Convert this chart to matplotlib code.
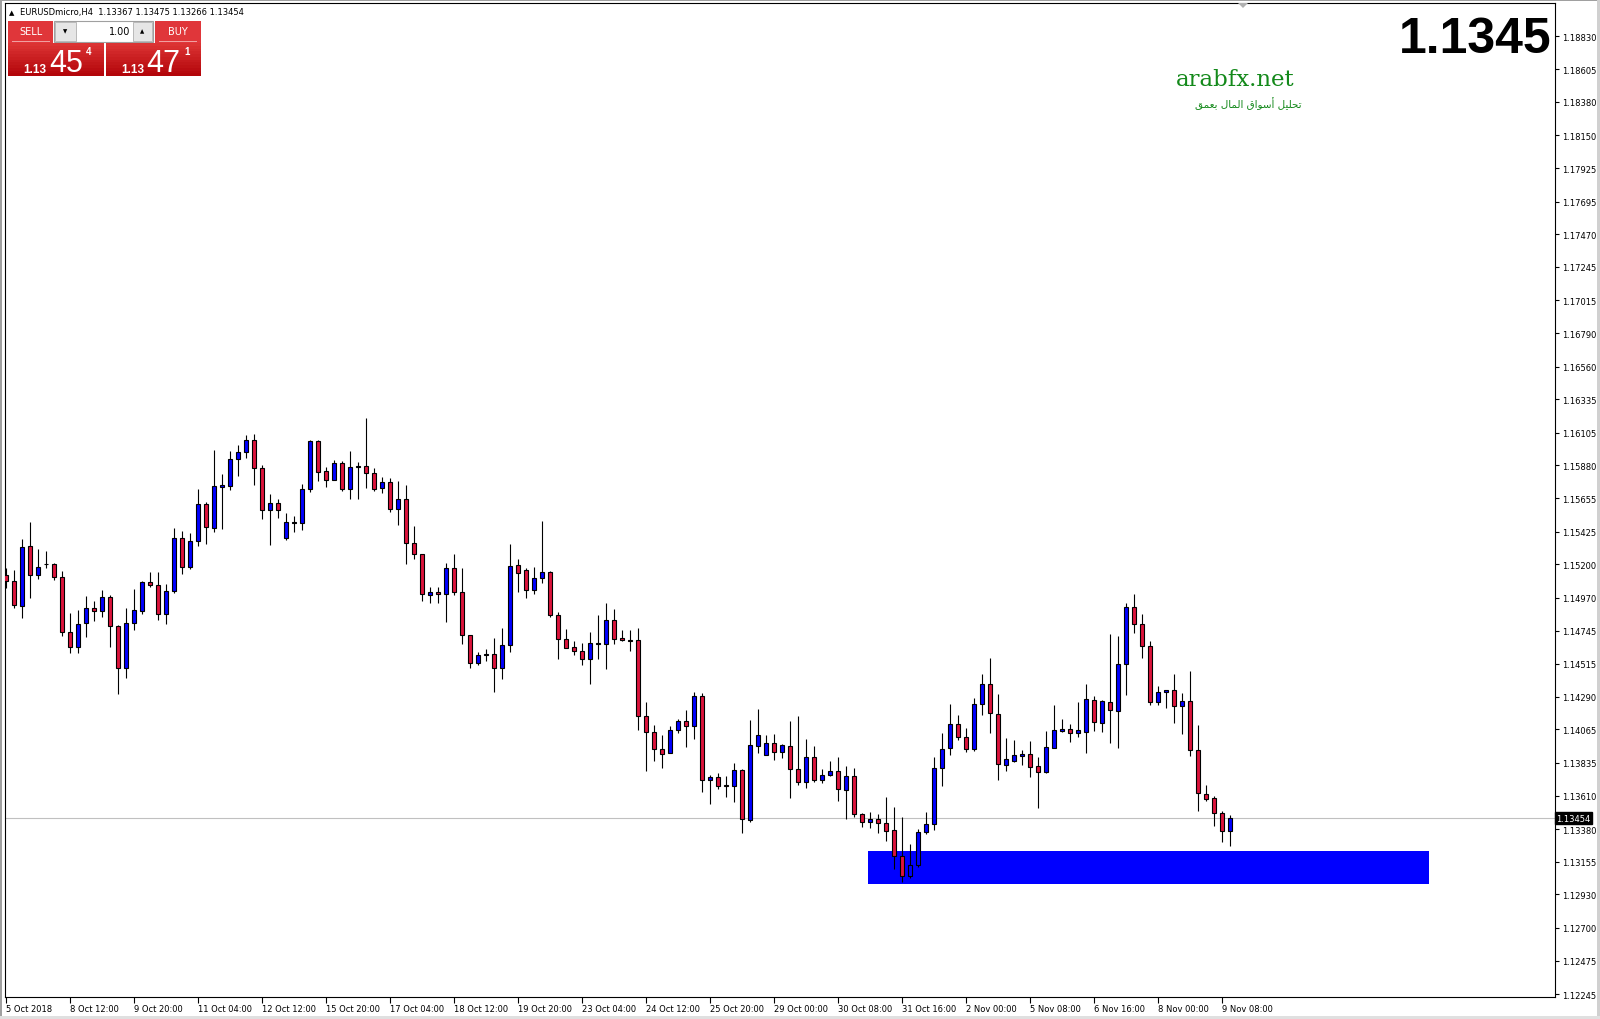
import numpy as np
import matplotlib
matplotlib.use('Agg')
import matplotlib.pyplot as plt
from matplotlib.patches import Rectangle, Polygon

W, H = 1600, 1020

# EURUSDmicro H4 bars, oldest first
opens = [1.15127, 1.15084, 1.14912, 1.15324, 1.15125, 1.15200, 1.15200, 1.15111, 1.14733, 1.14630,
         1.14795, 1.14898, 1.14882, 1.14974, 1.14774, 1.14485, 1.14795, 1.14877, 1.15077, 1.15056,
         1.14857, 1.15019, 1.15379, 1.15180, 1.15359, 1.15613, 1.15448, 1.15735, 1.15737, 1.15922,
         1.15971, 1.16053, 1.15860, 1.15571, 1.15619, 1.15379, 1.15486, 1.15486, 1.15716, 1.16046,
         1.15839, 1.15778, 1.15894, 1.15716, 1.15867, 1.15874, 1.15826, 1.15723, 1.15764, 1.15578,
         1.15647, 1.15344, 1.15269, 1.14989, 1.15010, 1.14994, 1.15172, 1.15007, 1.14712, 1.14519,
         1.14574, 1.14581, 1.14485, 1.14643, 1.15193, 1.15159, 1.15021, 1.15104, 1.15145, 1.14849,
         1.14684, 1.14629, 1.14602, 1.14547, 1.14650, 1.14650, 1.14815, 1.14691, 1.14680, 1.14678,
         1.14155, 1.14045, 1.13928, 1.13901, 1.14059, 1.14121, 1.14091, 1.14293, 1.13715, 1.13736,
         1.13681, 1.13678, 1.13784, 1.13442, 1.13949, 1.13887, 1.13970, 1.13908, 1.13949, 1.13791,
         1.13701, 1.13873, 1.13715, 1.13750, 1.13777, 1.13646, 1.13743, 1.13481, 1.13426, 1.13447,
         1.13420, 1.13371, 1.13193, 1.13055, 1.13135, 1.13358, 1.13413, 1.13798, 1.13935, 1.14100,
         1.14011, 1.13928, 1.14238, 1.14375, 1.14169, 1.13823, 1.13850, 1.13885, 1.13894, 1.13811,
         1.13775, 1.13940, 1.14057, 1.14066, 1.14043, 1.14050, 1.14265, 1.14107, 1.14251, 1.14190,
         1.14513, 1.14905, 1.14788, 1.14636, 1.14251, 1.14320, 1.14334, 1.14224, 1.14258, 1.13921,
         1.13619, 1.13591, 1.13488, 1.13367]
highs = [1.15173, 1.15162, 1.15375, 1.15492, 1.15306, 1.15292, 1.15207, 1.15152, 1.14866, 1.14886,
         1.14983, 1.14948, 1.15024, 1.14990, 1.14783, 1.14900, 1.15031, 1.15086, 1.15148, 1.15148,
         1.15065, 1.15450, 1.15430, 1.15416, 1.15718, 1.15629, 1.15987, 1.15822, 1.15980, 1.16021,
         1.16090, 1.16096, 1.15883, 1.15684, 1.15649, 1.15553, 1.15532, 1.15752, 1.16055, 1.16053,
         1.15869, 1.15917, 1.15908, 1.15979, 1.15904, 1.16206, 1.15860, 1.15800, 1.15794, 1.15773,
         1.15745, 1.15464, 1.15269, 1.15044, 1.15044, 1.15209, 1.15271, 1.15175, 1.14712, 1.14597,
         1.14618, 1.14693, 1.14762, 1.15340, 1.15237, 1.15175, 1.15182, 1.15498, 1.15154, 1.14872,
         1.14755, 1.14673, 1.14657, 1.14735, 1.14852, 1.14934, 1.14893, 1.14749, 1.14749, 1.14762,
         1.14254, 1.14095, 1.14027, 1.14086, 1.14137, 1.14199, 1.14322, 1.14313, 1.13749, 1.13765,
         1.13742, 1.13834, 1.13791, 1.14130, 1.14206, 1.14025, 1.14032, 1.13963, 1.14123, 1.14158,
         1.13999, 1.13951, 1.13791, 1.13846, 1.13876, 1.13814, 1.13800, 1.13488, 1.13495, 1.13481,
         1.13601, 1.13530, 1.13461, 1.13275, 1.13378, 1.13495, 1.13873, 1.14041, 1.14240, 1.14162,
         1.14073, 1.14279, 1.14446, 1.14556, 1.14307, 1.14006, 1.13992, 1.13924, 1.13986, 1.13876,
         1.14054, 1.14233, 1.14137, 1.14102, 1.14254, 1.14377, 1.14295, 1.14267, 1.14721, 1.14707,
         1.14934, 1.14996, 1.14859, 1.14673, 1.14364, 1.14334, 1.14446, 1.14316, 1.14467, 1.14096,
         1.13683, 1.13607, 1.13506, 1.13475]
lows = [1.15040, 1.14903, 1.14834, 1.14971, 1.15102, 1.15173, 1.15095, 1.14710, 1.14593, 1.14593,
        1.14703, 1.14811, 1.14841, 1.14634, 1.14309, 1.14421, 1.14751, 1.14861, 1.15047, 1.14820,
        1.14793, 1.15006, 1.15136, 1.15171, 1.15329, 1.15343, 1.15421, 1.15446, 1.15714, 1.15810,
        1.15929, 1.15748, 1.15514, 1.15335, 1.15521, 1.15370, 1.15425, 1.15438, 1.15695, 1.15775,
        1.15734, 1.15777, 1.15707, 1.15652, 1.15652, 1.15727, 1.15707, 1.15693, 1.15562, 1.15473,
        1.15205, 1.15239, 1.14950, 1.14936, 1.14936, 1.14806, 1.14987, 1.14654, 1.14485, 1.14506,
        1.14538, 1.14324, 1.14409, 1.14600, 1.15012, 1.14971, 1.14998, 1.15074, 1.14840, 1.14551,
        1.14622, 1.14579, 1.14510, 1.14380, 1.14551, 1.14483, 1.14650, 1.14671, 1.14607, 1.14063,
        1.13781, 1.13850, 1.13802, 1.13901, 1.14043, 1.13946, 1.14001, 1.13637, 1.13555, 1.13658,
        1.13603, 1.13568, 1.13351, 1.13431, 1.13905, 1.13887, 1.13857, 1.13871, 1.13596, 1.13685,
        1.13665, 1.13701, 1.13699, 1.13743, 1.13575, 1.13452, 1.13461, 1.13397, 1.13390, 1.13355,
        1.13300, 1.13103, 1.13014, 1.13046, 1.13122, 1.13344, 1.13376, 1.13679, 1.13892, 1.13990,
        1.13908, 1.13915, 1.14167, 1.14043, 1.13715, 1.13782, 1.13843, 1.13823, 1.13740, 1.13527,
        1.13768, 1.13940, 1.14050, 1.13981, 1.14015, 1.13905, 1.14057, 1.14050, 1.13974, 1.13940,
        1.14304, 1.14730, 1.14554, 1.14235, 1.14235, 1.14215, 1.14112, 1.14036, 1.13885, 1.13506,
        1.13571, 1.13403, 1.13293, 1.13266]
closes = [1.15084, 1.14919, 1.15317, 1.15127, 1.15180, 1.15205, 1.15111, 1.14733, 1.14630, 1.14788,
          1.14898, 1.14882, 1.14974, 1.14774, 1.14485, 1.14795, 1.14884, 1.15077, 1.15056, 1.14857,
          1.15015, 1.15379, 1.15180, 1.15359, 1.15613, 1.15455, 1.15737, 1.15744, 1.15922, 1.15971,
          1.16053, 1.15860, 1.15574, 1.15619, 1.15571, 1.15489, 1.15491, 1.15716, 1.16046, 1.15833,
          1.15778, 1.15894, 1.15716, 1.15867, 1.15874, 1.15826, 1.15716, 1.15764, 1.15578, 1.15647,
          1.15344, 1.15269, 1.14994, 1.15010, 1.14994, 1.15172, 1.15007, 1.14712, 1.14519, 1.14574,
          1.14581, 1.14485, 1.14643, 1.15186, 1.15138, 1.15021, 1.15104, 1.15145, 1.14849, 1.14684,
          1.14622, 1.14602, 1.14547, 1.14657, 1.14657, 1.14815, 1.14684, 1.14678, 1.14675, 1.14155,
          1.14045, 1.13928, 1.13894, 1.14059, 1.14121, 1.14091, 1.14293, 1.13715, 1.13736, 1.13674,
          1.13674, 1.13784, 1.13447, 1.13956, 1.14025, 1.13970, 1.13908, 1.13956, 1.13791, 1.13701,
          1.13873, 1.13715, 1.13750, 1.13777, 1.13653, 1.13743, 1.13481, 1.13426, 1.13447, 1.13420,
          1.13365, 1.13193, 1.13055, 1.13131, 1.13358, 1.13413, 1.13798, 1.13928, 1.14100, 1.14011,
          1.13928, 1.14238, 1.14375, 1.14176, 1.13825, 1.13859, 1.13887, 1.13894, 1.13809, 1.13775,
          1.13942, 1.14059, 1.14066, 1.14043, 1.14059, 1.14272, 1.14114, 1.14258, 1.14196, 1.14513,
          1.14905, 1.14788, 1.14636, 1.14251, 1.14320, 1.14334, 1.14224, 1.14258, 1.13921, 1.13626,
          1.13584, 1.13488, 1.13369, 1.13454]

x_labels = ['5 Oct 2018', '8 Oct 12:00', '9 Oct 20:00', '11 Oct 04:00', '12 Oct 12:00',
            '15 Oct 20:00', '17 Oct 04:00', '18 Oct 12:00', '19 Oct 20:00', '23 Oct 04:00',
            '24 Oct 12:00', '25 Oct 20:00', '29 Oct 00:00', '30 Oct 08:00', '31 Oct 16:00',
            '2 Nov 00:00', '5 Nov 08:00', '6 Nov 16:00', '8 Nov 00:00', '9 Nov 08:00']
label_every = 8

price_ticks = [1.18830, 1.18605, 1.18380, 1.18150, 1.17925, 1.17695, 1.17470, 1.17245, 1.17015,
               1.16790, 1.16560, 1.16335, 1.16105, 1.15880, 1.15655, 1.15425, 1.15200, 1.14970,
               1.14745, 1.14515, 1.14290, 1.14065, 1.13835, 1.13610, 1.13380, 1.13155, 1.12930,
               1.12700, 1.12475, 1.12245]

bid = 1.13454
ask = 1.13471

# demand zone rectangle (bar index from / to, price low / high)
zone_bars = (107.8, 177.9)
zone_prices = (1.13005, 1.13229)

tagline = 'تحليل أسواق المال بعمق'

# arabic presentation forms: isolated, final, initial, medial
AR_FORMS = {
    'ت': (0xFE95, 0xFE96, 0xFE97, 0xFE98),
    'ح': (0xFEA1, 0xFEA2, 0xFEA3, 0xFEA4),
    'ل': (0xFEDD, 0xFEDE, 0xFEDF, 0xFEE0),
    'ي': (0xFEF1, 0xFEF2, 0xFEF3, 0xFEF4),
    'س': (0xFEB1, 0xFEB2, 0xFEB3, 0xFEB4),
    'ق': (0xFED5, 0xFED6, 0xFED7, 0xFED8),
    'م': (0xFEE1, 0xFEE2, 0xFEE3, 0xFEE4),
    'ب': (0xFE8F, 0xFE90, 0xFE91, 0xFE92),
    'ع': (0xFEC9, 0xFECA, 0xFECB, 0xFECC),
    'أ': (0xFE83, 0xFE84, None, None),
    'ا': (0xFE8D, 0xFE8E, None, None),
    'و': (0xFEED, 0xFEEE, None, None),
}

def shape_arabic(text):
    # matplotlib does no shaping, so pick the joined forms and reverse for display
    out = []
    for k, ch in enumerate(text):
        if ch not in AR_FORMS:
            out.append(ch)
            continue
        prev = text[k-1] if k > 0 else ' '
        nxt = text[k+1] if k+1 < len(text) else ' '
        iso, fin, ini, med = AR_FORMS[ch]
        join_prev = prev in AR_FORMS and AR_FORMS[prev][2] is not None
        join_next = nxt in AR_FORMS and ini is not None
        if join_prev and join_next:
            code = med
        elif join_prev:
            code = fin
        elif join_next:
            code = ini
        else:
            code = iso
        out.append(chr(code))
    return ''.join(reversed(out))

def fx(x):
    return x / W

def fy(y):
    return 1 - y / H

def fig_rect(fig, x0, y0, x1, y1, **kw):
    fig.add_artist(Rectangle((fx(x0), fy(y1)), fx(x1) - fx(x0), fy(y0) - fy(y1),
                             transform=fig.transFigure, **kw))


plt.rcParams['font.family'] = 'DejaVu Sans'

fig = plt.figure(figsize=(16, 10.2), dpi=100)
fig.patch.set_facecolor('white')
ax = fig.add_axes([fx(4.5), fy(998), fx(1555) - fx(4.5), fy(4) - fy(998)])
ax.set_xlim(-0.15, 193.66)
ax.set_ylim(1.12225, 1.19060)

# candles
idx = np.arange(len(opens))
o = np.array(opens)
c = np.array(closes)
up = c > o
colors = np.where(up, '#0000ff', '#dc143c')
ax.add_patch(Rectangle((zone_bars[0], zone_prices[0]), zone_bars[1] - zone_bars[0],
                       zone_prices[1] - zone_prices[0], facecolor='#0000ff', edgecolor='none', zorder=2))
ax.axhline(bid, color='#c0c0c0', linewidth=0.8, zorder=1)
ax.vlines(idx, lows, highs, color='black', linewidth=0.8, zorder=3)
ax.bar(idx, np.abs(c - o), bottom=np.minimum(o, c), width=0.55, color=colors,
       edgecolor='black', linewidth=0.8, zorder=4)

# axes, MT4 look
for s in ax.spines.values():
    s.set_color('black')
    s.set_linewidth(0.8)
ax.yaxis.tick_right()
ax.set_yticks(price_ticks)
ax.set_yticklabels([f'{p:.5f}' for p in price_ticks])
ax.tick_params(axis='y', direction='out', length=3, width=0.8, labelsize=6, pad=2)
ax.set_xticks(np.arange(len(x_labels)) * label_every)
ax.set_xticklabels(x_labels)
for lbl in ax.get_xticklabels():
    lbl.set_horizontalalignment('left')
ax.tick_params(axis='x', direction='out', length=4, width=0.8, labelsize=6, pad=1)

ax.text(1.001, bid, f'{bid:.5f}', transform=ax.get_yaxis_transform(), color='white', fontsize=6,
        va='center', ha='left', zorder=10,
        bbox=dict(boxstyle='square,pad=0.2', facecolor='black', edgecolor='black'))

# header line
fig.text(fx(9), fy(13), '▲', fontsize=5, va='center', ha='left')
fig.text(fx(20), fy(13), f'EURUSDmicro,H4  {opens[-1]:.5f} {highs[-1]:.5f} {lows[-1]:.5f} {closes[-1]:.5f}',
         fontsize=6, va='center', ha='left')

# big price top right
fig.text(fx(1552), fy(53), f'{bid:.4f}', fontsize=36, fontweight='bold', family='Liberation Sans',
         ha='right', va='baseline', color='black')

# watermark
fig.text(fx(1176), fy(86), 'arabfx.net', fontsize=16.5, family='DejaVu Serif', color='#13891a',
         ha='left', va='baseline')
fig.text(fx(1302), fy(104), shape_arabic(tagline), fontsize=7.5, color='#13891a', ha='right', va='center')

# one click trading panel
red_top, red_bot = np.array([0.86, 0.20, 0.20]), np.array([0.70, 0.02, 0.04])
fig_rect(fig, 8, 22, 53, 44, facecolor='#e0363a', edgecolor='none')
fig_rect(fig, 155, 22, 201, 44, facecolor='#e0363a', edgecolor='none')
fig_rect(fig, 12, 42, 50, 43, facecolor='#f0a0a0', edgecolor='none')
fig_rect(fig, 159, 42, 197, 43, facecolor='#f0a0a0', edgecolor='none')
fig.text(fx(30.5), fy(32), 'SELL', fontsize=7, color='white', ha='center', va='center')
fig.text(fx(178), fy(32), 'BUY', fontsize=7, color='white', ha='center', va='center')
fig_rect(fig, 54, 22, 153, 43, facecolor='white', edgecolor='#a0a0a0', linewidth=0.8)
fig_rect(fig, 55, 23, 76, 42, facecolor='#e6e6e6', edgecolor='#b0b0b0', linewidth=0.6)
fig_rect(fig, 133, 23, 152, 42, facecolor='#e6e6e6', edgecolor='#b0b0b0', linewidth=0.6)
fig.text(fx(65.5), fy(32), '▼', fontsize=4, ha='center', va='center')
fig.text(fx(142.5), fy(32), '▲', fontsize=4, ha='center', va='center')
fig.text(fx(130), fy(32), '1.00', fontsize=7, ha='right', va='center')
nsl = 12
for box in [(8, 104), (106, 201)]:
    for k in range(nsl):
        col = red_top + (red_bot - red_top) * k / (nsl - 1)
        y0 = 44 + 33 * k / nsl
        fig_rect(fig, box[0], y0, box[1], y0 + 33 / nsl + 0.3, facecolor=col, edgecolor='none')
for price, x_small, x_big, x_sup in [(bid, 23, 49, 86), (ask, 121, 146, 184)]:
    s = f'{price:.5f}'
    fig.text(fx(x_small), fy(73), s[:4], fontsize=8.5, fontweight='bold', family='Liberation Sans',
             color='white', ha='left', va='baseline')
    fig.text(fx(x_big), fy(72), s[4:6], fontsize=22, family='Liberation Sans', color='white',
             ha='left', va='baseline')
    fig.text(fx(x_sup), fy(55), s[6], fontsize=7, fontweight='bold', family='Liberation Sans',
             color='white', ha='left', va='baseline')

# window edges and chart shift marker
fig_rect(fig, 0, 0, 1600, 2, facecolor='#a0a0a0', edgecolor='none')
fig_rect(fig, 0, 0, 2, 1020, facecolor='#a0a0a0', edgecolor='none')
fig_rect(fig, 1597, 0, 1600, 1020, facecolor='#d0d0d0', edgecolor='none')
fig_rect(fig, 0, 1017, 1600, 1020, facecolor='#e0e0e0', edgecolor='none')
fig.add_artist(Polygon([(fx(1238), fy(4)), (fx(1248), fy(4)), (fx(1243), fy(9))],
                       closed=True, transform=fig.transFigure, facecolor='#b0b0b0', edgecolor='none'))

fig.savefig('out.png', dpi=100)
